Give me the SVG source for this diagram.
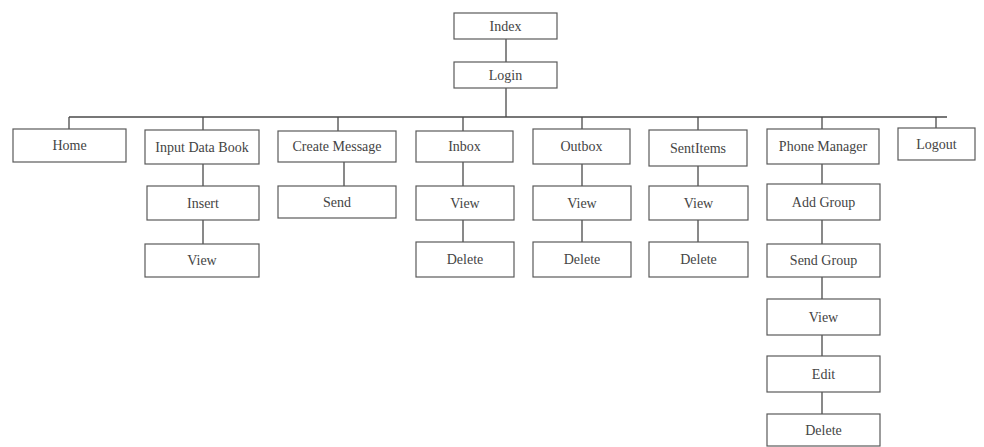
<svg xmlns="http://www.w3.org/2000/svg" width="984" height="447" viewBox="0 0 984 447">
  <style>
    .box { fill: #ffffff; stroke: #5a5a5a; stroke-width: 1.2; }
    .lbl { font-family: "Liberation Serif", "Times New Roman", serif; font-size: 14px; fill: #444444; text-anchor: middle; dominant-baseline: central; }
    .wire { fill: none; stroke: #4a4a4a; stroke-width: 1.3; }
  </style>
  <rect width="984" height="447" fill="#ffffff"/>

  <!-- connectors -->
  <g id="connectors" class="wire">
    <line x1="506" y1="39" x2="506" y2="62"/>
    <line x1="506" y1="88" x2="506" y2="117"/>
    <line x1="69" y1="117" x2="947" y2="117"/>
    <line x1="69" y1="117" x2="69" y2="129"/>
    <line x1="203" y1="117" x2="203" y2="130"/>
    <line x1="338" y1="117" x2="338" y2="131"/>
    <line x1="463" y1="117" x2="463" y2="131"/>
    <line x1="582" y1="117" x2="582" y2="129"/>
    <line x1="698" y1="117" x2="698" y2="130"/>
    <line x1="822" y1="117" x2="822" y2="129"/>
    <line x1="936" y1="117" x2="936" y2="128"/>
    <line x1="203" y1="164" x2="203" y2="186"/>
    <line x1="203" y1="220" x2="203" y2="244"/>
    <line x1="344" y1="162" x2="344" y2="186"/>
    <line x1="463" y1="162" x2="463" y2="186"/>
    <line x1="463" y1="220" x2="463" y2="242"/>
    <line x1="582" y1="164" x2="582" y2="186"/>
    <line x1="582" y1="220" x2="582" y2="242"/>
    <line x1="698" y1="166" x2="698" y2="186"/>
    <line x1="698" y1="220" x2="698" y2="242"/>
    <line x1="822" y1="164" x2="822" y2="184"/>
    <line x1="822" y1="220" x2="822" y2="244"/>
    <line x1="822" y1="277" x2="822" y2="299"/>
    <line x1="822" y1="335" x2="822" y2="356"/>
    <line x1="822" y1="392" x2="822" y2="414"/>
  </g>

  <g id="index"><rect class="box" x="454" y="13" width="103" height="26"/><text class="lbl" x="505.5" y="26">Index</text></g>
  <g id="login"><rect class="box" x="454" y="62" width="103" height="26"/><text class="lbl" x="505.5" y="75">Login</text></g>

  <g id="home"><rect class="box" x="13" y="129" width="113" height="33"/><text class="lbl" x="69.5" y="145.5">Home</text></g>
  <g id="input-data-book"><rect class="box" x="145" y="130" width="114" height="34"/><text class="lbl" x="202" y="147">Input Data Book</text></g>
  <g id="insert"><rect class="box" x="147" y="186" width="112" height="34"/><text class="lbl" x="203" y="203">Insert</text></g>
  <g id="idb-view"><rect class="box" x="145" y="244" width="114" height="33"/><text class="lbl" x="202" y="260.5">View</text></g>

  <g id="create-message"><rect class="box" x="278" y="131" width="118" height="31"/><text class="lbl" x="337" y="146.5">Create Message</text></g>
  <g id="send"><rect class="box" x="278" y="186" width="118" height="32"/><text class="lbl" x="337" y="202">Send</text></g>

  <g id="inbox"><rect class="box" x="416" y="131" width="97" height="31"/><text class="lbl" x="464.5" y="146.5">Inbox</text></g>
  <g id="inbox-view"><rect class="box" x="416" y="186" width="98" height="34"/><text class="lbl" x="465" y="203">View</text></g>
  <g id="inbox-delete"><rect class="box" x="416" y="242" width="98" height="35"/><text class="lbl" x="465" y="259.5">Delete</text></g>

  <g id="outbox"><rect class="box" x="533" y="129" width="97" height="35"/><text class="lbl" x="581.5" y="146.5">Outbox</text></g>
  <g id="outbox-view"><rect class="box" x="533" y="186" width="98" height="34"/><text class="lbl" x="582" y="203">View</text></g>
  <g id="outbox-delete"><rect class="box" x="533" y="242" width="98" height="35"/><text class="lbl" x="582" y="259.5">Delete</text></g>

  <g id="sentitems"><rect class="box" x="649" y="130" width="98" height="36"/><text class="lbl" x="698" y="148">SentItems</text></g>
  <g id="sentitems-view"><rect class="box" x="649" y="186" width="99" height="34"/><text class="lbl" x="698.5" y="203">View</text></g>
  <g id="sentitems-delete"><rect class="box" x="649" y="242" width="99" height="35"/><text class="lbl" x="698.5" y="259.5">Delete</text></g>

  <g id="phone-manager"><rect class="box" x="767" y="129" width="112" height="35"/><text class="lbl" x="823" y="146.5">Phone Manager</text></g>
  <g id="add-group"><rect class="box" x="767" y="184" width="113" height="36"/><text class="lbl" x="823.5" y="202">Add Group</text></g>
  <g id="send-group"><rect class="box" x="767" y="244" width="113" height="33"/><text class="lbl" x="823.5" y="260.5">Send Group</text></g>
  <g id="pm-view"><rect class="box" x="767" y="299" width="113" height="36"/><text class="lbl" x="823.5" y="317">View</text></g>
  <g id="edit"><rect class="box" x="767" y="356" width="113" height="36"/><text class="lbl" x="823.5" y="374">Edit</text></g>
  <g id="pm-delete"><rect class="box" x="767" y="414" width="113" height="32"/><text class="lbl" x="823.5" y="430">Delete</text></g>

  <g id="logout"><rect class="box" x="898" y="128" width="77" height="32"/><text class="lbl" x="936.5" y="144">Logout</text></g>
</svg>
